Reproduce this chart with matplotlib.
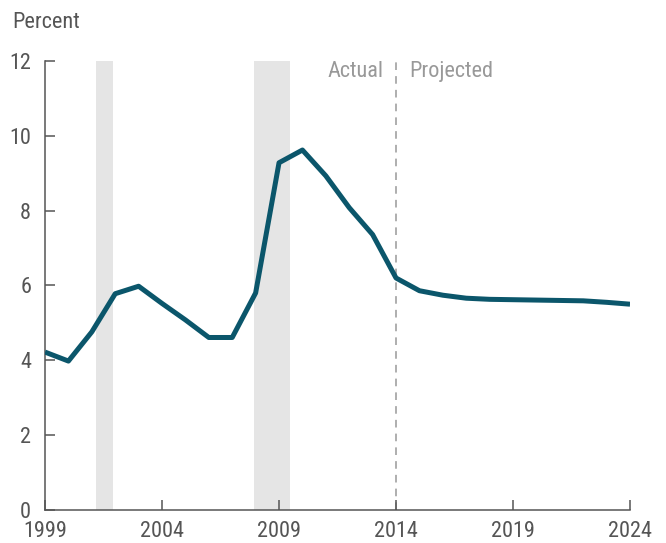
import matplotlib
matplotlib.use("Agg")
import matplotlib.pyplot as plt
from matplotlib import font_manager

years = list(range(1999, 2025))
rate = [4.22, 3.98, 4.76, 5.78, 5.98, 5.52, 5.08, 4.61, 4.61, 5.8, 9.28,
        9.62, 8.93, 8.08, 7.36, 6.2, 5.86, 5.74, 5.66, 5.63, 5.62, 5.61,
        5.6, 5.59, 5.55, 5.5]
recessions = [(2001.17, 2001.9), (2007.92, 2009.46)]
xticks = [1999, 2004, 2009, 2014, 2019, 2024]
yticks = [0, 2, 4, 6, 8, 10, 12]
split_year = 2014

# narrow font if there is one, else Liberation Sans
names = {f.name for f in font_manager.fontManager.ttflist}
fam = "Liberation Sans"
for cand in ["Roboto Condensed", "Liberation Sans Narrow", "Open Sans Condensed"]:
    if cand in names:
        fam = cand
        break
plt.rcParams["font.family"] = fam

GRAY = "#555555"
LINE = "#0b566b"
FS = 16

fig = plt.figure(figsize=(6.66, 5.43), dpi=100)
ax = fig.add_axes([0.0676, 0.0608, 0.8784, 0.8269])

for a, b in recessions:
    ax.axvspan(a, b, color="#e5e5e5", lw=0, zorder=0)

ax.axvline(split_year, color="#999999", lw=1.1, ls=(0, (5, 4)), zorder=1)
ax.plot(years, rate, color=LINE, lw=3.6, solid_joinstyle="round",
        solid_capstyle="butt", zorder=3)

ax.set_xlim(1999, 2024)
ax.set_ylim(0, 12)
ax.set_xticks(xticks)
ax.set_yticks(yticks)
ax.tick_params(axis="both", direction="in", length=7, width=1.1, color=GRAY,
               labelcolor=GRAY, labelsize=FS)
ax.tick_params(axis="x", pad=8)
ax.tick_params(axis="y", pad=10)
for s in ["top", "right"]:
    ax.spines[s].set_visible(False)
for s in ["left", "bottom"]:
    ax.spines[s].set_color(GRAY)
    ax.spines[s].set_linewidth(1.1)

ax.text(split_year - 0.55, 12, "Actual", ha="right", va="top",
        color="#999999", fontsize=FS)
ax.text(split_year + 0.55, 12, "Projected", ha="left", va="top",
        color="#999999", fontsize=FS)
fig.text(12 / 666, 1 - 28 / 543, "Percent", ha="left", va="baseline",
         color=GRAY, fontsize=FS)

fig.savefig("out.png", dpi=100)
